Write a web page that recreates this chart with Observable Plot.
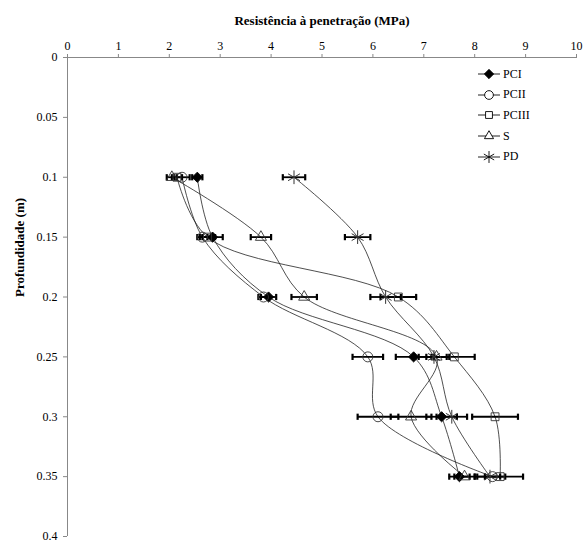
<!DOCTYPE html>
<html>
<head>
<meta charset="utf-8">
<script src="https://cdn.jsdelivr.net/npm/d3@7"></script>
<script src="https://cdn.jsdelivr.net/npm/@observablehq/plot@0.6"></script>
<style>
  html, body { margin: 0; padding: 0; background: #fff; }
  #wrap { position: relative; width: 584px; height: 542px; font-family: "Liberation Serif", serif; }
  #wrap svg text { font-family: "Liberation Serif", serif; }
  #legend { position: absolute; left: 477px; top: 64px; font-size: 12px; font-family: "Liberation Serif", serif; }
  #legend .row { height: 20.6px; display: flex; align-items: center; }
  #legend svg { margin-right: 2px; }
</style>
</head>
<body>
<div id="wrap"></div>
<script>
const depths = [0.1, 0.15, 0.2, 0.25, 0.3, 0.35];
const seriesNames = ["PCI", "PCII", "PCIII", "S", "PD"];
const PCI   = [2.55, 2.85, 3.95, 6.8, 7.35, 7.7];
const PCII  = [2.25, 2.65, 3.85, 5.9, 6.1, 8.35];
const PCIII = [2.15, 2.75, 6.5, 7.6, 8.4, 8.5];
const S     = [2.05, 3.8, 4.65, 7.25, 6.75, 7.8];
const PD    = [4.45, 5.7, 6.25, 7.2, 7.55, 8.3];
const errPCI   = [0.1, 0.2, 0.15, 0.35, 0.3, 0.2];
const errPCII  = [0.15, 0.1, 0.1, 0.3, 0.4, 0.15];
const errPCIII = [0.1, 0.15, 0.35, 0.4, 0.45, 0.45];
const errS     = [0.1, 0.2, 0.25, 0.2, 0.4, 0.2];
const errPD    = [0.22, 0.25, 0.3, 0.3, 0.3, 0.3];
const xTicks = [0, 1, 2, 3, 4, 5, 6, 7, 8, 9, 10];
const yTicks = [0, 0.05, 0.1, 0.15, 0.2, 0.25, 0.3, 0.35, 0.4];

const values = {PCI, PCII, PCIII, S, PD};
const errors = {PCI: errPCI, PCII: errPCII, PCIII: errPCIII, S: errS, PD: errPD};
const data = seriesNames.flatMap(s => depths.map((d, i) => ({series: s, depth: d, v: values[s][i], e: errors[s][i]})));

const capSymbol = {draw(ctx, size) { const r = Math.sqrt(size) / 2; ctx.moveTo(0, -r); ctx.lineTo(0, r); }};

const marks = [
  Plot.axisX({anchor: "top", ticks: xTicks, tickSize: 4, tickPadding: 4, stroke: "#888", color: "black", label: null, tickFormat: d => String(d)}),
  Plot.axisY({anchor: "left", ticks: yTicks, tickSize: 4, tickPadding: 6, stroke: "#888", color: "black", label: null, tickFormat: d => String(+d.toFixed(2))}),
  Plot.ruleX([0], {stroke: "#888"}),
  Plot.ruleY([0], {stroke: "#888"}),
  Plot.line(data, {x: "v", y: "depth", z: "series", curve: "catmull-rom", stroke: "#222", strokeWidth: 0.8}),
  Plot.ruleY(data, {y: "depth", x1: d => d.v - d.e, x2: d => d.v + d.e, stroke: "black", strokeWidth: 1.8}),
  Plot.dot(data, {x: d => d.v - d.e, y: "depth", symbol: capSymbol, r: 3.5, stroke: "black", strokeWidth: 2.2}),
  Plot.dot(data, {x: d => d.v + d.e, y: "depth", symbol: capSymbol, r: 3.5, stroke: "black", strokeWidth: 2.2}),
];
const symbolOf = {PCI: "diamond2", PCII: "circle", PCIII: "square2", S: "triangle2", PD: "asterisk"};
for (const s of seriesNames) {
  const sub = data.filter(d => d.series === s);
  const sym = symbolOf[s];
  const opts = {x: "v", y: "depth", symbol: () => sym, stroke: s === "PCI" ? "black" : "#333", strokeWidth: 0.9, fill: "none"};
  if (s === "PCI") Object.assign(opts, {fill: "black", r: 4.6});
  else if (s === "PCII") Object.assign(opts, {r: 5});
  else if (s === "PCIII") Object.assign(opts, {r: 5});
  else if (s === "S") Object.assign(opts, {r: 5.3});
  else Object.assign(opts, {r: 6.5, strokeWidth: 1});
  marks.push(Plot.dot(sub, opts));
}
marks.push(Plot.text(["Resistência à penetração (MPa)"], {frameAnchor: "top", dy: -42, fontWeight: "bold", fontSize: 13}));
marks.push(Plot.text(["Profundidade (m)"], {frameAnchor: "left", dx: -48, rotate: -90, fontWeight: "bold", fontSize: 13}));

const chart = Plot.plot({
  width: 584,
  height: 542,
  marginLeft: 67,
  marginRight: 8,
  marginTop: 57,
  marginBottom: 6,
  style: {fontFamily: "'Liberation Serif', serif", fontSize: "12px", background: "white", overflow: "visible"},
  x: {domain: [0, 10]},
  y: {domain: [0, 0.4], reverse: true},
  marks
});
const wrap = document.getElementById("wrap");
wrap.appendChild(chart);

// legend
const legend = document.createElement("div");
legend.id = "legend";
const symGen = {PCI: d3.symbolDiamond2, PCII: d3.symbolCircle, PCIII: d3.symbolSquare2, S: d3.symbolTriangle2, PD: d3.symbolAsterisk};
const legSize = {PCI: 55, PCII: 60, PCIII: 60, S: 60, PD: 100};
for (const s of seriesNames) {
  const row = document.createElement("div");
  row.className = "row";
  const svg = d3.create("svg").attr("width", 24).attr("height", 14);
  svg.append("line").attr("x1", 1).attr("x2", 23).attr("y1", 7).attr("y2", 7).attr("stroke", "#222").attr("stroke-width", 1);
  svg.append("path").attr("transform", "translate(12,7)")
    .attr("d", d3.symbol(symGen[s], legSize[s])())
    .attr("fill", s === "PCI" ? "black" : (s === "PD" ? "none" : "white"))
    .attr("stroke", "black").attr("stroke-width", 0.9);
  row.appendChild(svg.node());
  const t = document.createElement("span");
  t.textContent = s;
  row.appendChild(t);
  legend.appendChild(row);
}
wrap.appendChild(legend);
</script>
</body>
</html>
